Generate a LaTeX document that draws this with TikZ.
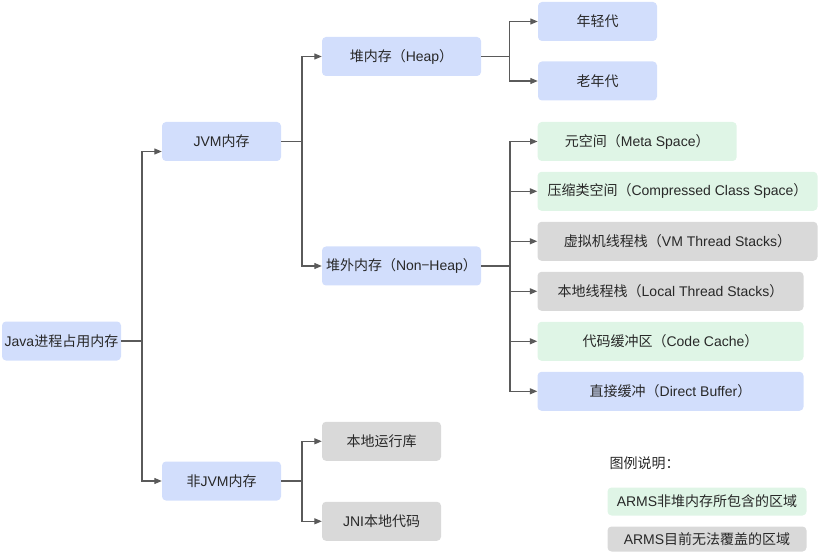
\documentclass[tikz,border=0pt]{standalone}
\usepackage{fontspec}
\setmainfont{Liberation Sans}
\newfontfamily\cjk{Noto Sans CJK SC}
\usetikzlibrary{arrows.meta}
\definecolor{bluebox}{RGB}{210,222,252}
\definecolor{greenbox}{RGB}{223,245,230}
\definecolor{graybox}{RGB}{217,217,217}
\definecolor{linec}{RGB}{90,90,90}
\definecolor{txt}{RGB}{40,40,40}
\begin{document}
\begin{tikzpicture}[x=1pt,y=-1pt,
  box/.style={rounded corners=4pt, inner sep=0pt, minimum height=39pt, text=txt,
    font=\fontsize{14}{16}\selectfont, anchor=center},
  bluen/.style={box, fill=bluebox},
  greenn/.style={box, fill=greenbox},
  grayn/.style={box, fill=graybox},
  conn/.style={draw=linec, line width=1.2pt, -{Triangle[length=7.5pt,width=6pt]}},
  plain/.style={draw=linec, line width=1.2pt}
]
\useasboundingbox (0,0) rectangle (819,553);
% nodes
\node[bluen, minimum width=119pt] (java) at (61.5,341) {Java{\cjk 进程占用内存}};
\node[bluen, minimum width=119pt] (jvm) at (221.5,141.5) {JVM{\cjk 内存}};
\node[bluen, minimum width=119pt] (nonjvm) at (221.5,481) {{\cjk 非}JVM{\cjk 内存}};
\node[bluen, minimum width=159pt] (heap) at (401.5,56.5) {{\cjk 堆内存（}Heap{\cjk ）}};
\node[bluen, minimum width=159pt] (nonheap) at (401.5,266) {{\cjk 堆外内存（}Non{\cjk −}Heap{\cjk ）}};
\node[bluen, minimum width=119pt] (young) at (597.5,21.5) {\cjk 年轻代};
\node[bluen, minimum width=119pt] (old) at (597.5,81) {\cjk 老年代};
\node[greenn, minimum width=199pt] (meta) at (637.2,141.5) {{\cjk 元空间（}Meta Space{\cjk ）}};
\node[greenn, minimum width=280pt] (comp) at (677.5,191.3) {{\cjk 压缩类空间（}Compressed Class Space{\cjk ）}};
\node[grayn, minimum width=280pt] (vmts) at (677.5,241.3) {{\cjk 虚拟机线程栈（}VM Thread Stacks{\cjk ）}};
\node[grayn, minimum width=266pt] (lts) at (670.5,291.3) {{\cjk 本地线程栈（}Local Thread Stacks{\cjk ）}};
\node[greenn, minimum width=266pt] (code) at (670.5,341.3) {{\cjk 代码缓冲区（}Code Cache{\cjk ）}};
\node[bluen, minimum width=266pt] (direct) at (670.5,391.3) {{\cjk 直接缓冲（}Direct Buffer{\cjk ）}};
\node[grayn, minimum width=119pt] (lib) at (381.5,441.3) {\cjk 本地运行库};
\node[grayn, minimum width=119pt] (jni) at (381.5,521.3) {JNI{\cjk 本地代码}};
% legend
\node[text=txt, font=\fontsize{14}{16}\selectfont, anchor=west, inner sep=0pt] (legt) at (609.5,463.5) {\cjk 图例说明：};
\node[greenn, minimum width=199pt, minimum height=28pt] (leg1) at (707,501.5) {ARMS{\cjk 非堆内存所包含的区域}};
\node[grayn, minimum width=199pt, minimum height=25pt] (leg2) at (707,539) {ARMS{\cjk 目前无法覆盖的区域}};
% connectors
\draw[plain] (java.east) -- ++(20.7,0) coordinate (t0);
\draw[conn] (t0) |- ([yshift=-10pt]jvm.west);
\draw[conn] (t0) |- (nonjvm.west);
\draw[plain] (jvm.east) -- ++(20.7,0) coordinate (t1);
\draw[conn] (t1) |- (heap.west);
\draw[conn] (t1) |- (nonheap.west);
\draw[plain] (heap.east) -- ++(28.5,0) coordinate (t2);
\draw[conn] (t2) |- (young.west);
\draw[conn] (t2) |- (old.west);
\draw[plain] (nonheap.east) -- ++(28.7,0) coordinate (t3);
\foreach \n in {meta,comp,vmts,lts,code,direct}{
  \draw[conn] (t3) |- (\n.west);
}
\draw[plain] (nonjvm.east) -- ++(20.7,0) coordinate (t4);
\draw[conn] (t4) |- (lib.west);
\draw[conn] (t4) |- (jni.west);
\end{tikzpicture}
\end{document}
